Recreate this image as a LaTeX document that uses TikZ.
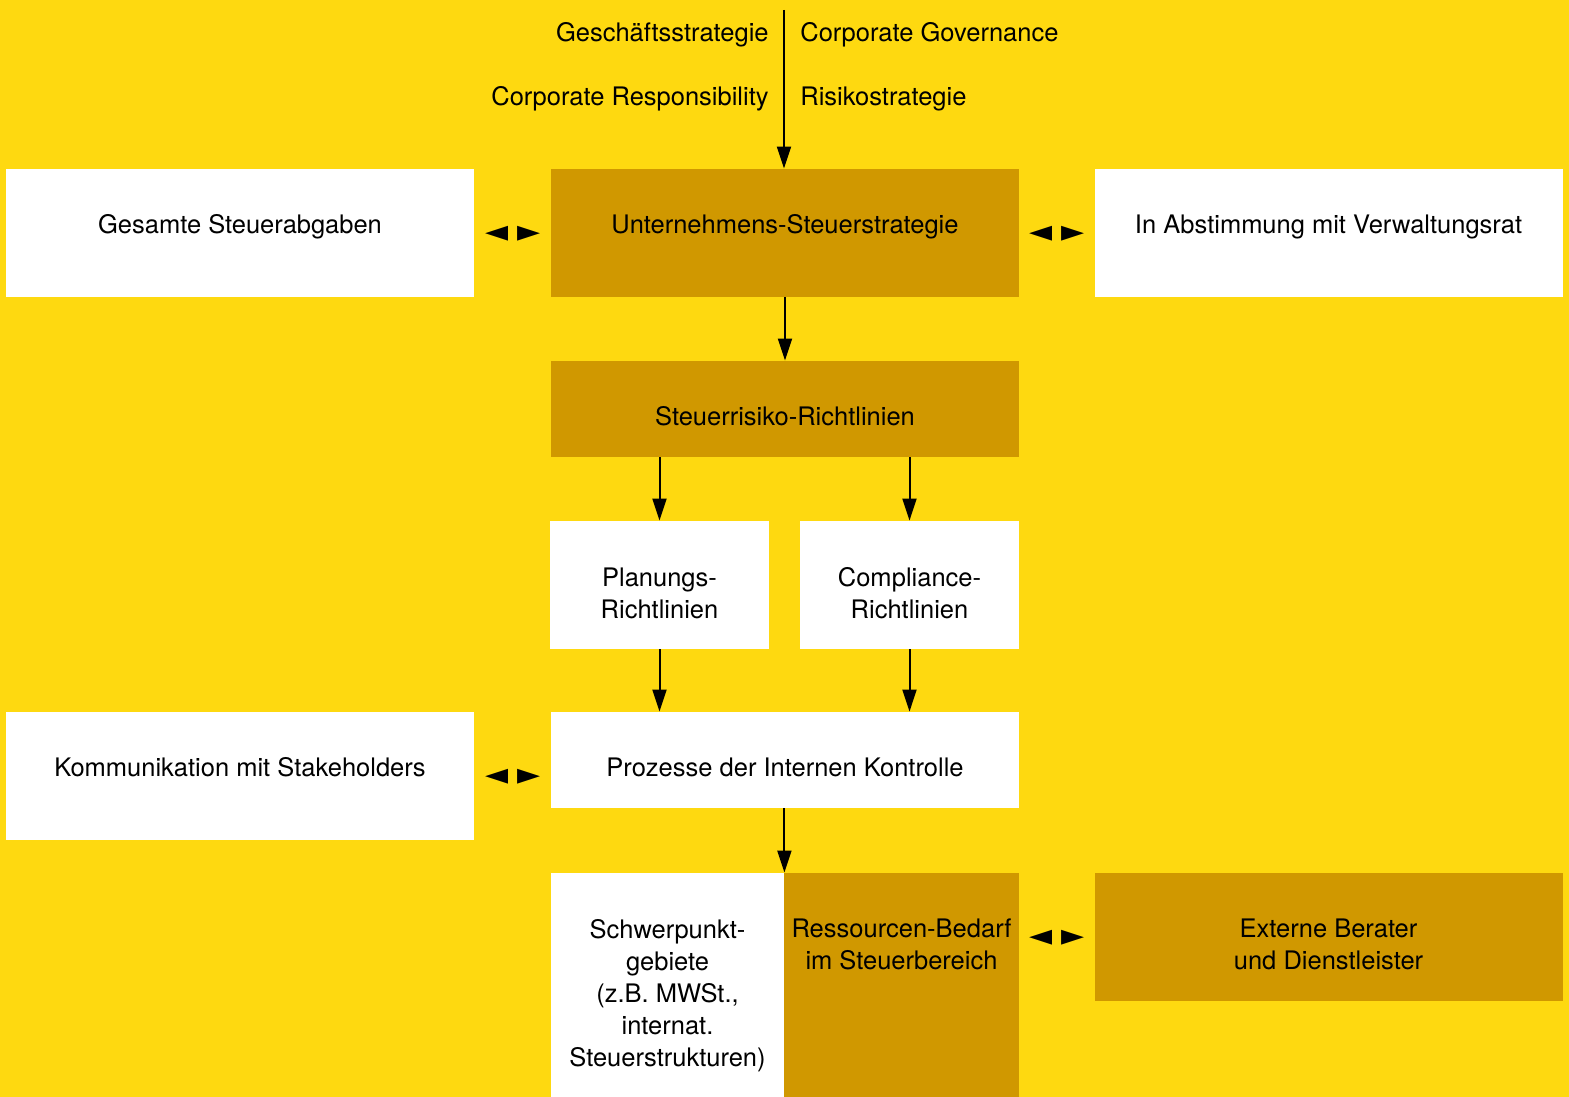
\documentclass[tikz,border=0pt]{standalone}
\usepackage{fontspec}
\setmainfont{TeX Gyre Heros}
\newfontfamily\pairfont{DejaVu Sans}
\usepackage{xcolor}
\usetikzlibrary{arrows.meta}
\definecolor{bgyellow}{RGB}{254,217,16}
\definecolor{boxgold}{RGB}{208,152,0}

\begin{document}
\begin{tikzpicture}[x=0.5pt, y=-0.5pt,
  wbox/.style={fill=white, inner sep=0pt, minimum width=234pt, minimum height=64pt},
  gbox/.style={wbox, fill=boxgold},
  txt/.style={font=\fontsize{12.75}{16}\selectfont, align=center, inner sep=0pt},
  arr/.style={-{Triangle[length=11pt,width=7pt]}, line width=1pt},
  pair/.style={font=\pairfont\fontsize{15}{15}\selectfont, inner sep=0pt}]
\useasboundingbox[fill=bgyellow] (0,0) rectangle (1569,1097);
% Kasten
\node[wbox] (ges) at (240,233) {};
\node[gbox] (ust) at (785,233) {};
\node[wbox] (abst) at (1328.5,233) {};
\node[gbox, minimum height=48pt] (srl) at (785,409) {};
\node[wbox, minimum width=109.5pt] (plan) at (659.5,585) {};
\node[wbox, minimum width=109.5pt] (comp) at (909.5,585) {};
\node[wbox] (komm) at (240,776) {};
\node[wbox, minimum height=48pt] (proz) at (785,760) {};
\node[wbox, minimum width=116.5pt, minimum height=119pt] (schw) at (667.5,992) {};
\node[gbox, minimum width=117.5pt, minimum height=119pt] (ress) at (901.5,992) {};
\node[gbox] (ext) at (1328.5,937) {};
% Texte
\node[txt, anchor=base east] (gs) at (769,42) {Geschäftsstrategie};
\node[txt, anchor=base west] (cg) at (800,42) {Corporate Governance};
\node[txt, anchor=base east] (cr) at (769,106) {Corporate Responsibility};
\node[txt, anchor=base west] (rs) at (800,106) {Risikostrategie};
\node[txt, anchor=base] (gest) at (240,233) {Gesamte Steuerabgaben};
\node[txt, anchor=base] (ustt) at (785,233) {Unternehmens-Steuerstrategie};
\node[txt, anchor=base] (abstt) at (1328.5,233) {In Abstimmung mit Verwaltungsrat};
\node[txt, anchor=base] (srlt) at (785,425) {Steuerrisiko-Richtlinien};
\node[txt] (plant) at (659.5,593) {Planungs-\\Richtlinien};
\node[txt] (compt) at (909.5,593) {Compliance-\\Richtlinien};
\node[txt, anchor=base] (kommt) at (240,776) {Kommunikation mit Stakeholders};
\node[txt, anchor=base] (prozt) at (785,776) {Prozesse der Internen Kontrolle};
\node[txt] (schwt) at (667.5,996) {Schwerpunkt-\\gebiete\\(z.B. MWSt.,\\internat.\\Steuerstrukturen)};
\node[txt] (resst) at (901.5,944) {Ressourcen-Bedarf\\im Steuerbereich};
\node[txt] (extt) at (1328.5,944) {Externe Berater\\und Dienstleister};
% Wechselpfeile
\node[pair] (p1) at (513,234) {◄ ►};
\node[pair] (p2) at (1057,234) {◄ ►};
\node[pair] (p3) at (513,777) {◄ ►};
\node[pair] (p4) at (1057,938) {◄ ►};
% Pfeile
\coordinate (top) at (784,10);
\draw[arr] (top) -- (top |- ust.north);
\draw[arr] (ust.south) -- (srl.north);
\draw[arr] (srl.south -| plan.north) -- (plan.north);
\draw[arr] (srl.south -| comp.north) -- (comp.north);
\draw[arr] (plan.south) -- (plan.south |- proz.north);
\draw[arr] (comp.south) -- (comp.south |- proz.north);
\draw[arr] (proz.south -| schw.north east) -- (schw.north east);
\end{tikzpicture}
\end{document}
